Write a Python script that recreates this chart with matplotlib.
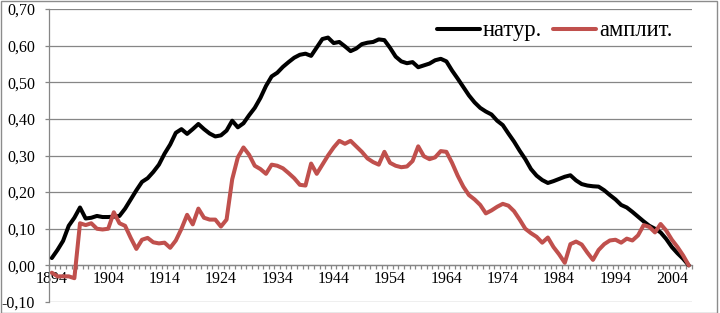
import matplotlib
matplotlib.use("Agg")
import matplotlib.pyplot as plt
from matplotlib.patches import Rectangle
from matplotlib.ticker import FixedLocator, FuncFormatter

years = list(range(1894, 2008))

natur = [0.02, 0.042, 0.067, 0.108, 0.13, 0.158, 0.128, 0.13, 0.135, 0.132,
         0.132, 0.133, 0.135, 0.155, 0.18, 0.205, 0.228, 0.238, 0.255, 0.275,
         0.305, 0.33, 0.362, 0.372, 0.359, 0.372, 0.386, 0.372, 0.36, 0.352,
         0.355, 0.368, 0.395, 0.377, 0.388, 0.41, 0.43, 0.457, 0.49, 0.516,
         0.526, 0.542, 0.555, 0.567, 0.575, 0.578, 0.572, 0.595, 0.618, 0.622,
         0.607, 0.61, 0.598, 0.585, 0.592, 0.604, 0.608, 0.61, 0.617, 0.615,
         0.594, 0.57, 0.557, 0.552, 0.555, 0.541, 0.546, 0.551, 0.56, 0.564,
         0.557, 0.532, 0.51, 0.487, 0.464, 0.445, 0.43, 0.42, 0.412, 0.395,
         0.383, 0.36, 0.338, 0.313, 0.29, 0.263, 0.245, 0.233, 0.225, 0.23,
         0.236, 0.242, 0.246, 0.232, 0.222, 0.218, 0.216, 0.215, 0.205, 0.192,
         0.18, 0.165, 0.158, 0.146, 0.133, 0.12, 0.108, 0.1, 0.09, 0.072,
         0.05, 0.033, 0.018, 0.0]

amplit = [-0.02, -0.03, -0.03, -0.03, -0.035, 0.115, 0.11, 0.115, 0.10, 0.098,
          0.10, 0.145, 0.115, 0.108, 0.075, 0.045, 0.07, 0.075, 0.063, 0.06,
          0.062, 0.048, 0.068, 0.1, 0.138, 0.112, 0.155, 0.13, 0.125, 0.125,
          0.106, 0.125, 0.235, 0.295, 0.322, 0.302, 0.272, 0.263, 0.25, 0.275,
          0.272, 0.265, 0.252, 0.238, 0.22, 0.218, 0.278, 0.25, 0.275, 0.3,
          0.322, 0.34, 0.332, 0.34, 0.325, 0.31, 0.292, 0.282, 0.275, 0.31,
          0.28, 0.272, 0.268, 0.27, 0.285, 0.325, 0.298, 0.29, 0.295, 0.312,
          0.31, 0.28, 0.245, 0.215, 0.192, 0.18, 0.165, 0.142, 0.15, 0.16,
          0.168, 0.163, 0.148, 0.125, 0.1, 0.088, 0.078, 0.062, 0.076, 0.05,
          0.03, 0.007, 0.058, 0.065, 0.057, 0.035, 0.015, 0.042, 0.058, 0.068,
          0.07, 0.062, 0.073, 0.068, 0.082, 0.11, 0.105, 0.09, 0.113, 0.095,
          0.07, 0.05, 0.027, 0.0]

series_names = ["натур.", "амплит."]
label_years = [1894, 1904, 1914, 1924, 1934, 1944, 1954, 1964, 1974, 1984, 1994, 2004]
y_ticks = [-0.10, 0.0, 0.10, 0.20, 0.30, 0.40, 0.50, 0.60, 0.70]

plt.rcParams['font.family'] = ['Liberation Serif', 'DejaVu Serif']

fig = plt.figure(figsize=(7.2, 3.13), dpi=100)
ax = fig.add_axes([49/720, 1-302/313, 642.6/720, 293/313])

grid_c = '#868686'
ax.plot(years, natur, color='black', lw=2.9, solid_joinstyle='round',
        solid_capstyle='round', label=series_names[0], zorder=3)
ax.plot(years, amplit, color='#C0504D', lw=2.9, solid_joinstyle='round',
        solid_capstyle='round', label=series_names[1], zorder=3)

ax.set_xlim(1893.5, 2007.5)
ax.set_ylim(-0.10, 0.70)

ax.yaxis.set_major_locator(FixedLocator(y_ticks))
ax.yaxis.set_major_formatter(FuncFormatter(lambda v, p: f"{v:.2f}".replace('.', ',').replace('-0,00', '0,00')))
ax.grid(axis='y', color=grid_c, lw=0.9)
ax.set_axisbelow(True)

ax.xaxis.set_major_locator(FixedLocator(label_years))
ax.set_xticklabels([str(y) for y in label_years])
ax.xaxis.set_minor_locator(FixedLocator([y - 0.5 for y in years] + [2007.5]))
ax.tick_params(axis='x', which='major', length=0, pad=4, labelsize=11.5)
ax.tick_params(axis='x', which='minor', length=3, width=0.9, color=grid_c, direction='out')
ax.tick_params(axis='y', which='major', length=3, width=0.9, color=grid_c, labelsize=11.5, pad=7)

for s in ['top', 'right']:
    ax.spines[s].set_visible(False)
ax.spines['bottom'].set_position(('data', 0))
ax.spines['bottom'].set_color(grid_c)
ax.spines['left'].set_color(grid_c)
ax.spines['bottom'].set_linewidth(0.9)
ax.spines['left'].set_linewidth(0.9)

ax.legend(loc='center right', bbox_to_anchor=(0.97, 0.925), ncol=2, frameon=False,
          fontsize=16.3, handlelength=1.9, handletextpad=0.15, columnspacing=0.45,
          borderpad=0, borderaxespad=0)

fig.patches.append(Rectangle((0.5/720, 0.5/313), 716/720, 311.5/313, transform=fig.transFigure,
                             fill=False, edgecolor='#8c8c8c', lw=1.0))

fig.savefig('out.png', dpi=100)
